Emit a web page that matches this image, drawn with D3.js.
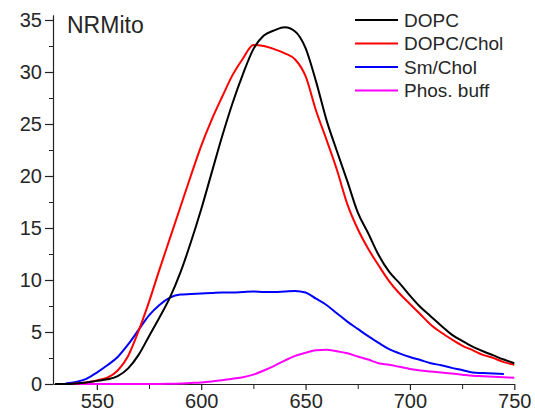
<!DOCTYPE html>
<html>
<head>
<meta charset="utf-8">
<script src="https://cdn.jsdelivr.net/npm/d3@7/dist/d3.min.js"></script>
<style>
  html, body { margin: 0; padding: 0; background: #fff; }
  svg { display: block; }
  text { font-family: "Liberation Sans", Arial, sans-serif; fill: #262626; }
</style>
</head>
<body>
<svg id="chart" width="535" height="417"></svg>
<script>
// ---- data ----
const wavelengths = [530,535,540,545,550,555,560,565,570,575,580,585,590,595,600,605,610,615,620,625,630,635,640,645,650,655,660,665,670,675,680,685,690,695,700,705,710,715,720,725,730,735,740,745,750];
const dopc = [0,0,0.05,0.15,0.3,0.45,0.75,1.5,2.8,4.6,6.4,8.3,10.7,13.6,16.8,20.3,23.8,27.0,29.8,32.2,33.5,34.0,34.3,33.9,32.3,29.1,25.4,22.4,19.5,16.5,14.5,12.4,10.8,9.7,8.5,7.4,6.5,5.6,4.75,4.15,3.6,3.15,2.75,2.35,2.0];
const dopcChol = [0,0,0.05,0.15,0.35,0.6,1.3,2.7,5.1,7.9,11.0,14.0,17.0,20.0,22.9,25.4,27.6,29.7,31.3,32.6,32.5,32.2,31.8,31.2,29.6,26.3,23.5,20.6,17.3,14.9,13.0,11.4,9.9,8.7,7.7,6.7,5.7,4.95,4.3,3.7,3.25,2.8,2.5,2.1,1.85];
const smChol = [null,0.05,0.2,0.5,1.1,1.8,2.6,3.8,5.2,6.6,7.6,8.3,8.6,8.65,8.7,8.75,8.8,8.8,8.85,8.9,8.85,8.85,8.9,8.95,8.8,8.2,7.6,6.8,6.0,5.3,4.6,3.95,3.35,2.95,2.6,2.3,2.0,1.8,1.55,1.35,1.1,1.05,1.0,0.95,null];
const phosBuff = [0,0,0,0,0,0,0,0,0,0,0,0.02,0.05,0.1,0.15,0.25,0.35,0.5,0.65,0.9,1.3,1.75,2.25,2.7,3.0,3.25,3.3,3.15,2.95,2.65,2.35,2.0,1.85,1.65,1.45,1.3,1.2,1.1,1.0,0.9,0.8,0.75,0.7,0.65,0.6];
const seriesNames = ["DOPC", "DOPC/Chol", "Sm/Chol", "Phos. buff"];
const seriesColors = ["#000000", "#ff0000", "#0000ff", "#ff00ff"];
const xTicks = [550, 600, 650, 700, 750];
const xMinorTicks = [575, 625, 675, 725];
const yTicks = [0, 5, 10, 15, 20, 25, 30, 35];
const yMinorTicks = [2.5, 7.5, 12.5, 17.5, 22.5, 27.5, 32.5];
const titleText = "NRMito";

const seriesValues = [dopc, dopcChol, smChol, phosBuff];

const svg = d3.select("#chart");
const x = d3.scaleLinear().domain([529, 750]).range([53, 514.3]);
const y = d3.scaleLinear().domain([0, 35.5]).range([384, 14.8]);

// minor ticks
svg.append("g").attr("transform", "translate(0,384)")
  .call(d3.axisBottom(x).tickValues(xMinorTicks).tickSize(5).tickFormat(""))
  .call(g => g.select(".domain").remove())
  .selectAll("line").attr("stroke", "#222");
svg.append("g").attr("transform", "translate(53,0)")
  .call(d3.axisLeft(y).tickValues(yMinorTicks).tickSize(4).tickFormat(""))
  .call(g => g.select(".domain").remove())
  .selectAll("line").attr("stroke", "#222");

// major axes
const xAxis = svg.append("g").attr("transform", "translate(0,384)")
  .call(d3.axisBottom(x).tickValues(xTicks).tickSize(6).tickSizeOuter(0).tickPadding(4));
const yAxis = svg.append("g").attr("transform", "translate(53,0)")
  .call(d3.axisLeft(y).tickValues(yTicks).tickSize(8).tickSizeOuter(0).tickPadding(3));
[xAxis, yAxis].forEach(a => {
  a.select(".domain").attr("stroke", "#222").attr("stroke-width", 1.2);
  a.selectAll(".tick line").attr("stroke", "#222").attr("stroke-width", 1.2);
  a.selectAll("text").attr("font-size", "20px").attr("font-family", "Liberation Sans, Arial, sans-serif").attr("fill", "#262626");
});

// lines
const line = d3.line()
  .defined(d => d[1] !== null)
  .x(d => x(d[0])).y(d => y(d[1]))
  .curve(d3.curveMonotoneX);

// draw in order: magenta, blue, red, black (black on top)
[3, 2, 1, 0].forEach(i => {
  const pts = wavelengths.map((w, k) => [w, seriesValues[i][k]]);
  svg.append("path").datum(pts)
    .attr("d", line)
    .attr("fill", "none")
    .attr("stroke", seriesColors[i])
    .attr("stroke-width", 2);
});

// title
svg.append("text").attr("x", 67).attr("y", 33)
  .attr("font-size", "23px").text(titleText);

// legend
const legendY = [20, 43.5, 67, 90.5];
seriesNames.forEach((name, i) => {
  svg.append("line").attr("x1", 355).attr("x2", 398)
    .attr("y1", legendY[i]).attr("y2", legendY[i])
    .attr("stroke", seriesColors[i]).attr("stroke-width", 2);
  svg.append("text").attr("x", 404).attr("y", legendY[i])
    .attr("dy", "0.35em").attr("font-size", "19px").text(name);
});
</script>
</body>
</html>
